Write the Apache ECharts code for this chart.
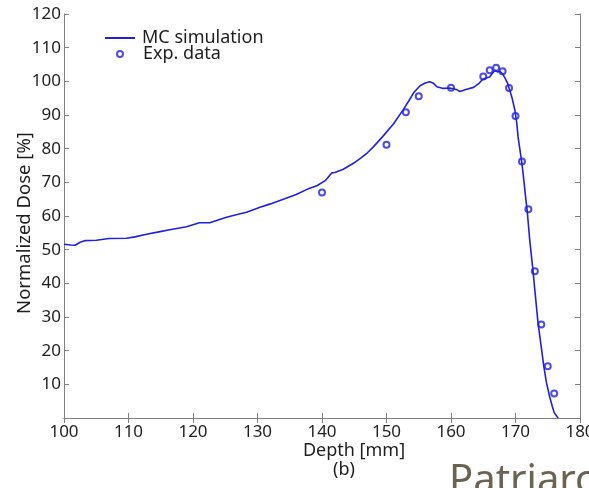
<!DOCTYPE html>
<html>
<head>
<meta charset="utf-8">
<script src="https://cdn.jsdelivr.net/npm/echarts@6/dist/echarts.min.js"></script>
<style>
html,body{margin:0;padding:0;background:#fff;}
#chart{width:589px;height:488px;}
</style>
</head>
<body>
<div id="chart"></div>
<script>
// MC simulation curve (depth in mm, normalized dose in %)
var mcDepth = [100,101,101.7,102.5,103.3,105,107,109.7,111,112.8,114.5,116.4,119,121,122.6,124,125.2,127,128.3,130.4,132,134,136,138,139.2,140.5,141.5,142,143.3,145,146,147,148,149.5,151.1,152.6,153.5,154.2,155.2,156,156.7,157.3,157.8,158.8,159.8,160.8,161.4,162.3,163.5,164.3,164.8,165.4,166.0,166.5,166.8,167.2,167.6,168.0,168.4,168.8,169.1,169.5,169.9,170.2,170.4,170.7,171.0,171.3,171.6,171.8,172.2,172.7,173.1,173.5,174.0,174.4,174.8,175.3,175.7,176.0,176.6];
var mcDose  = [51.6,51.4,51.3,52.2,52.7,52.8,53.3,53.4,53.8,54.6,55.2,55.9,56.8,58.0,58.0,58.9,59.6,60.5,61.1,62.6,63.6,65.0,66.4,68.2,69.0,70.5,72.8,72.9,73.9,75.8,77.2,78.7,80.6,83.8,87.4,91.6,94.3,96.6,98.7,99.5,99.9,99.4,98.4,97.9,98.0,97.6,97.0,97.6,98.2,99.3,100.4,101.0,101.3,102.6,103.2,102.8,102.9,102.2,100.9,99.3,97.4,94.8,91.5,87.5,83.5,79.5,75.6,70.5,65.0,61.8,53.0,44.0,36.0,28.1,21.0,15.2,10.5,6.3,3.5,1.6,0];
// Experimental data
var expDepth = [140,150,153,155,160,165,166,167,168,169,170,171,172,173,174,175,176];
var expDose  = [67.0,81.2,90.8,95.6,98.1,101.4,103.3,104.0,103.0,98.0,89.7,76.2,62.0,43.6,27.8,15.4,7.3];
// Axis settings
var xRange = [100,180], xStep = 10;
var yRange = [0,120], yStep = 10;
var seriesNames = ['MC simulation','Exp. data'];
var xTitle = 'Depth [mm]';
var yTitle = 'Normalized Dose [%]';
var subLabel = '(b)';
var footerText = 'Patriarca';

function zip(a,b){ return a.map(function(v,i){ return [v,b[i]]; }); }

var FONT = 'Noto Sans';
var AX = '#808080';
var TXT = '#1e1e1e';
var BLUE = '#1f1fe6';

var chart = echarts.init(document.getElementById('chart'), null, {renderer:'canvas'});
var axisCommon = {
  type:'value',
  axisLine:{show:true, lineStyle:{color:AX, width:1}},
  axisTick:{show:true, inside:true, length:5, lineStyle:{color:AX}},
  splitLine:{show:false}
};
chart.setOption({
  animation:false,
  backgroundColor:'#fff',
  grid:{left:64, right:9, top:14, bottom:70, containLabel:false, outerBoundsMode:'none'},
  legend:[
    {data:[{name:seriesNames[0], icon:'rect'}], orient:'vertical', left:105, top:29, padding:0, itemWidth:30, itemHeight:2,
     itemGap:0, textStyle:{fontFamily:FONT, fontSize:18, color:TXT, padding:[0,0,0,2]}},
    {data:[{name:seriesNames[1], icon:'emptyCircle'}], orient:'vertical', left:116, top:45, padding:0, itemWidth:6, itemHeight:6,
     itemGap:0, textStyle:{fontFamily:FONT, fontSize:18, color:TXT, padding:[0,0,6,15]}}
  ],
  xAxis:[
    Object.assign({}, axisCommon, {min:xRange[0], max:xRange[1], interval:xStep, position:'bottom',
      axisLabel:{show:true, margin:6, fontFamily:FONT, fontSize:17, color:TXT}}),
    Object.assign({}, axisCommon, {min:xRange[0], max:xRange[1], interval:xStep, position:'top',
      axisLabel:{show:false}})
  ],
  yAxis:[
    Object.assign({}, axisCommon, {min:yRange[0], max:yRange[1], interval:yStep, position:'left',
      axisLabel:{show:true, margin:3, fontFamily:FONT, fontSize:17, color:TXT,
        formatter:function(v){ return v===0 ? '' : String(v); }}}),
    Object.assign({}, axisCommon, {min:yRange[0], max:yRange[1], interval:yStep, position:'right',
      axisLabel:{show:false}})
  ],
  graphic:[
    {type:'text', x:25, y:223, rotation:Math.PI/2, style:{text:yTitle, fontFamily:FONT, fontSize:18.5, fill:TXT, textAlign:'center', textVerticalAlign:'middle'}},
    {type:'text', x:354, y:451, style:{text:xTitle, fontFamily:FONT, fontSize:18, fill:TXT, textAlign:'center', textVerticalAlign:'middle'}},
    {type:'text', x:344, y:470, style:{text:subLabel, fontFamily:FONT, fontSize:18, fill:TXT, textAlign:'center', textVerticalAlign:'middle'}},
    {type:'text', x:449, y:482, style:{text:footerText, fontFamily:FONT, fontSize:40, fill:'#6b6352', textAlign:'left', textVerticalAlign:'middle'}}
  ],
  series:[
    {name:seriesNames[0], type:'line', xAxisIndex:0, yAxisIndex:0, data:zip(mcDepth, mcDose),
     symbol:'none', smooth:false, lineStyle:{color:BLUE, width:1.6}, itemStyle:{color:BLUE}, clip:true},
    {name:seriesNames[1], type:'scatter', xAxisIndex:0, yAxisIndex:0, data:zip(expDepth, expDose),
     symbol:'emptyCircle', symbolSize:6, itemStyle:{color:BLUE, borderColor:BLUE, borderWidth:1.4}}
  ]
});
</script>
</body>
</html>
